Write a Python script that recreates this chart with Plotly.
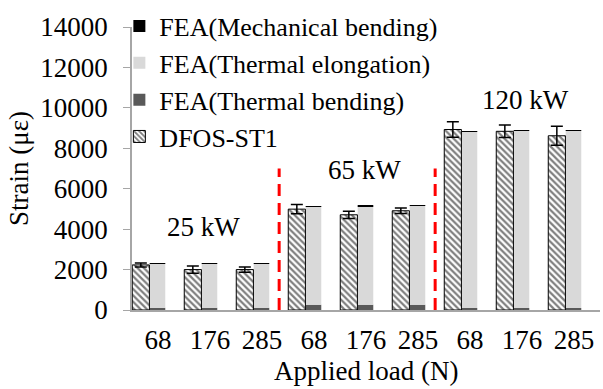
import numpy as np
import plotly.graph_objects as go

loads = ["68", "176", "285", "68", "176", "285", "68", "176", "285"]
powers = ["25 kW", "65 kW", "120 kW"]

dfos = [2230, 2000, 2000, 4990, 4710, 4910, 8930, 8840, 8620]
dfos_err = [100, 180, 130, 230, 180, 130, 380, 310, 470]

fea_thermal_bending = [110, 110, 110, 260, 260, 260, 100, 100, 100]
fea_mech_bending = [5, 15, 30, 5, 15, 30, 5, 15, 30]
fea_total = [2300, 2300, 2310, 5140, 5150, 5190, 8850, 8870, 8900]
fea_thermal_elong = [t - b - m for t, b, m in zip(fea_total, fea_thermal_bending, fea_mech_bending)]

x = np.arange(len(loads))
tb = np.array(fea_thermal_bending)
te = np.array(fea_thermal_elong)
mb = np.array(fea_mech_bending)

FONT = "Liberation Serif"
FS = 27

fig = go.Figure()
fea_off, fea_w = -0.16, 0.30
fig.add_trace(go.Bar(x=x, y=tb, base=0, offset=fea_off, width=fea_w,
                     marker=dict(color="#595959", line=dict(width=0)),
                     name="FEA(Thermal bending)", legendrank=3))
fig.add_trace(go.Bar(x=x, y=te, base=tb, offset=fea_off, width=fea_w,
                     marker=dict(color="#d9d9d9", line=dict(width=0)),
                     name="FEA(Thermal elongation)", legendrank=2))
fig.add_trace(go.Bar(x=x, y=mb, base=tb + te, offset=fea_off, width=fea_w,
                     marker=dict(color="#000000", line=dict(width=0)),
                     name="FEA(Mechanical bending)", legendrank=1))
fig.add_trace(go.Bar(x=x, y=dfos, offset=-0.495, width=0.33,
                     marker=dict(color="white", line=dict(color="black", width=1),
                                 pattern=dict(shape="\\", fgcolor="black", bgcolor="white",
                                              size=4.5, solidity=0.5)),
                     error_y=dict(type="data", array=dfos_err, color="black",
                                  thickness=1.5, width=6),
                     name="DFOS-ST1", legendrank=4))

# red dashed separators between power groups
for sep in [2.33, 5.33]:
    fig.add_shape(type="line", x0=sep, x1=sep, y0=0, y1=7000, xref="x", yref="y",
                  line=dict(color="#ff0000", width=3, dash="12px,7px"))

ann_pos = [(0.87, 4120), (3.98, 6920), (7.06, 10410)]
for (ax, ay), txt in zip(ann_pos, powers):
    fig.add_annotation(x=ax, y=ay, text=txt, showarrow=False, xref="x", yref="y",
                       font=dict(family=FONT, size=FS, color="black"))

# x-axis title
fig.add_annotation(x=0.5, y=-0.216, xref="paper", yref="paper", text="Applied load (N)",
                   showarrow=False, yanchor="middle", xanchor="center",
                   font=dict(family=FONT, size=FS, color="black"))

fig.update_layout(
    width=603, height=389,
    margin=dict(l=132, r=3, t=25, b=79),
    barmode="overlay",
    plot_bgcolor="white", paper_bgcolor="white",
    font=dict(family=FONT, size=FS, color="black"),
    showlegend=True,
    legend=dict(x=-0.027, y=1.086, xanchor="left", yanchor="top",
                bgcolor="rgba(255,255,255,0)", font=dict(family=FONT, size=26),
                traceorder="normal", itemwidth=30, tracegroupgap=0),
    xaxis=dict(range=[-0.5, 8.5], tickmode="array", tickvals=list(x), ticktext=loads,
               showline=True, linecolor="#a6a6a6", linewidth=1.5, ticks="",
               showgrid=False, zeroline=False, ticklabelstandoff=5),
    yaxis=dict(range=[0, 14000], tickmode="array",
               tickvals=[0, 2000, 4000, 6000, 8000, 10000, 12000, 14000],
               ticktext=["0", "2000", "4000", "6000", "8000", "10000", "12000", "14000"],
               showline=True, linecolor="#a6a6a6", linewidth=1.5,
               ticks="outside", ticklen=7, tickcolor="#a6a6a6",
               showgrid=False, zeroline=False, ticklabelstandoff=10,
               title=dict(text="Strain (με)", standoff=4, font=dict(size=FS))),
)

fig.write_html("out.html")
